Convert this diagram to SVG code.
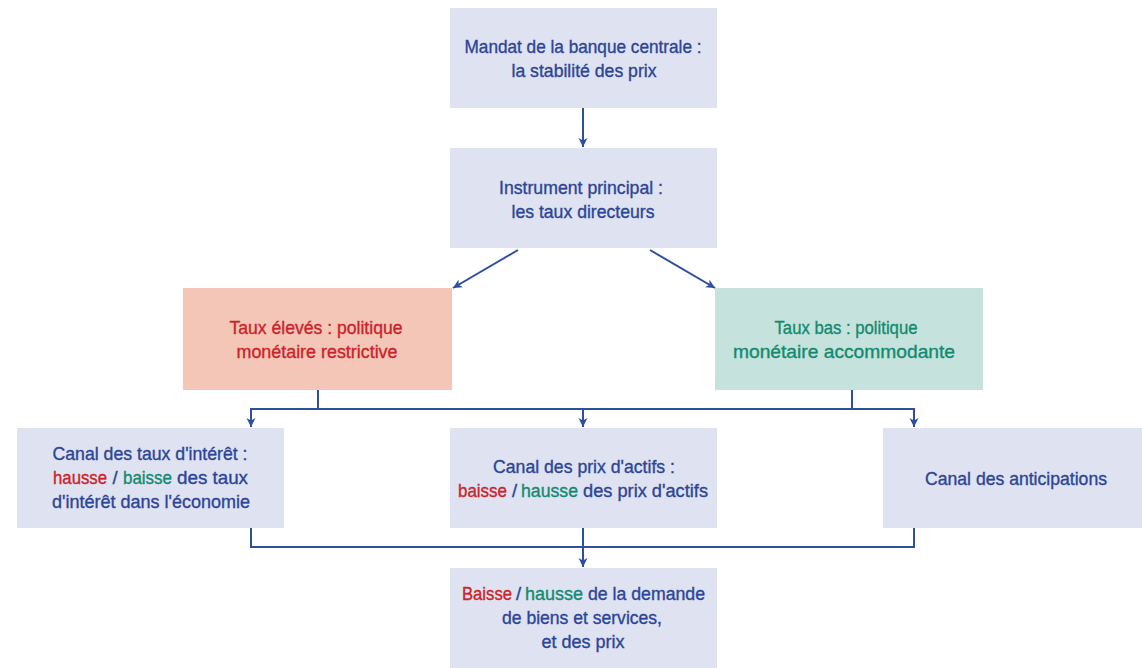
<svg xmlns="http://www.w3.org/2000/svg" width="1142" height="668" viewBox="0 0 1142 668">
<defs>
<style>
.box{fill:#dee2f1}
.red{fill:#f3c6b7}
.grn{fill:#c5e3dc}
text{font-family:"Liberation Sans Narrow","Arial Narrow","Liberation Sans",Arial,sans-serif;font-size:18.5px;text-anchor:middle;fill:#2c4597;stroke:#2c4597;stroke-width:0.35}
text.s{text-anchor:start}
.tr{fill:#cc2229;stroke:#cc2229}
.tg{fill:#138a70;stroke:#138a70}
.con{fill:none;stroke:#2d4f9e;stroke-width:2}
</style>
<marker id="ah" markerWidth="10" markerHeight="10" refX="9" refY="5" orient="auto" markerUnits="userSpaceOnUse">
<path d="M0,0.5 L9,5 L0,9.5 L2.5,5 z" fill="#2d4f9e"/>
</marker>
</defs>
<rect width="1142" height="668" fill="#ffffff"/>
<g id="connectors">
<line class="con" x1="583" y1="108" x2="583" y2="147" marker-end="url(#ah)"/>
<line class="con" x1="518" y1="250" x2="453" y2="288" marker-end="url(#ah)"/>
<line class="con" x1="650" y1="250" x2="715" y2="288" marker-end="url(#ah)"/>
<polyline class="con" points="318,390 318,409"/>
<polyline class="con" points="852,390 852,409"/>
<polyline class="con" points="251,427 251,409 914,409 914,427" marker-end="url(#ah)"/>
<line class="con" x1="251" y1="409" x2="251" y2="427" marker-end="url(#ah)"/>
<line class="con" x1="583" y1="409" x2="583" y2="427" marker-end="url(#ah)"/>
<polyline class="con" points="251,528 251,547 914,547 914,528"/>
<line class="con" x1="583" y1="528" x2="583" y2="567" marker-end="url(#ah)"/>
</g>
<g id="mandat">
<rect class="box" x="450" y="8" width="267" height="100"/>
<text x="583" y="52.5" textLength="237" lengthAdjust="spacingAndGlyphs">Mandat de la banque centrale :</text>
<text x="584" y="76.5" textLength="145" lengthAdjust="spacingAndGlyphs">la stabilité des prix</text>
</g>
<g id="instrument">
<rect class="box" x="450" y="148" width="267" height="100"/>
<text x="581" y="194" textLength="164" lengthAdjust="spacingAndGlyphs">Instrument principal :</text>
<text x="583" y="218" textLength="143" lengthAdjust="spacingAndGlyphs">les taux directeurs</text>
</g>
<g id="restrictive">
<rect class="red" x="183" y="288" width="269" height="102"/>
<text class="tr" x="316" y="333.5" textLength="173" lengthAdjust="spacingAndGlyphs">Taux élevés : politique</text>
<text class="tr" x="317" y="357.5" textLength="161" lengthAdjust="spacingAndGlyphs">monétaire restrictive</text>
</g>
<g id="accommodante">
<rect class="grn" x="715" y="288" width="268" height="102"/>
<text class="tg" x="846" y="333.5" textLength="143" lengthAdjust="spacingAndGlyphs">Taux bas : politique</text>
<text class="tg" x="844" y="357.5" textLength="222" lengthAdjust="spacingAndGlyphs">monétaire accommodante</text>
</g>
<g id="canal-taux">
<rect class="box" x="17" y="428" width="267" height="100"/>
<text x="150" y="460" textLength="195" lengthAdjust="spacingAndGlyphs">Canal des taux d'intérêt :</text>
<text class="s tr" x="53" y="484" textLength="54" lengthAdjust="spacingAndGlyphs">hausse</text>
<text x="115" y="484">/</text>
<text class="s tg" x="123" y="484" textLength="49" lengthAdjust="spacingAndGlyphs">baisse</text>
<text class="s" x="177" y="484" textLength="71" lengthAdjust="spacingAndGlyphs">des taux</text>
<text x="151" y="508" textLength="198" lengthAdjust="spacingAndGlyphs">d'intérêt dans l'économie</text>
</g>
<g id="canal-actifs">
<rect class="box" x="450" y="428" width="267" height="100"/>
<text x="584" y="472.5" textLength="182" lengthAdjust="spacingAndGlyphs">Canal des prix d'actifs :</text>
<text class="s tr" x="458" y="496.5" textLength="49" lengthAdjust="spacingAndGlyphs">baisse</text>
<text x="514.5" y="496.5">/</text>
<text class="s tg" x="521" y="496.5" textLength="57" lengthAdjust="spacingAndGlyphs">hausse</text>
<text class="s" x="583" y="496.5" textLength="125" lengthAdjust="spacingAndGlyphs">des prix d'actifs</text>
</g>
<g id="canal-anticipations">
<rect class="box" x="883" y="428" width="259" height="100"/>
<text x="1016" y="485" textLength="182" lengthAdjust="spacingAndGlyphs">Canal des anticipations</text>
</g>
<g id="demande">
<rect class="box" x="450" y="568" width="267" height="100"/>
<text class="s tr" x="462" y="600" textLength="50" lengthAdjust="spacingAndGlyphs">Baisse</text>
<text x="518.5" y="600">/</text>
<text class="s tg" x="525" y="600" textLength="58" lengthAdjust="spacingAndGlyphs">hausse</text>
<text class="s" x="588" y="600" textLength="117" lengthAdjust="spacingAndGlyphs">de la demande</text>
<text x="582" y="624" textLength="160" lengthAdjust="spacingAndGlyphs">de biens et services,</text>
<text x="583" y="648" textLength="83" lengthAdjust="spacingAndGlyphs">et des prix</text>
</g>
</svg>
